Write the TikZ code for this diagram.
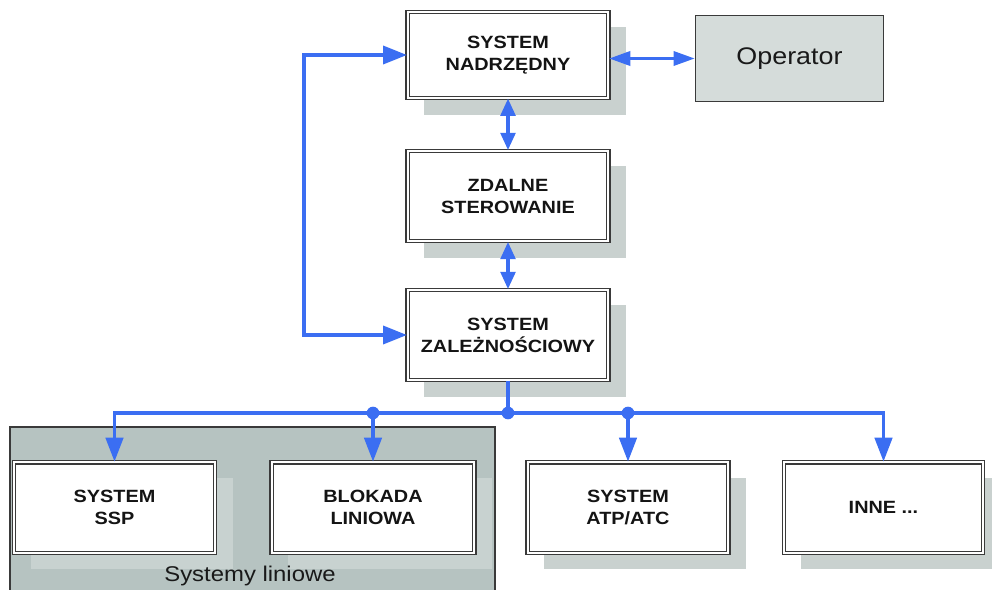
\documentclass[tikz,border=0pt]{standalone}
\usepackage{fontspec}
\setmainfont{Liberation Sans}[FakeStretch=1.12]
\usetikzlibrary{arrows.meta}
\definecolor{ablue}{HTML}{3B6EF2}
\definecolor{shadowgray}{HTML}{C9D1CF}
\definecolor{opfill}{HTML}{D5DCDA}
\definecolor{regfill}{HTML}{B6C3C1}
\definecolor{regshadow}{HTML}{C8D2D0}
\definecolor{edge}{HTML}{3A3A3A}
\pgfdeclarelayer{bg}
\pgfsetlayers{bg,main}
\begin{document}
\begin{tikzpicture}[x=0.75pt,y=-0.75pt,
  box/.style={draw=edge, line width=1pt, double=white, double distance=1.3pt,
    fill=white, minimum width=150.5pt, minimum height=67.8pt, inner sep=0pt,
    align=center, font=\fontsize{13.3}{16.5}\selectfont\bfseries, text=black!92},
  conn/.style={draw=ablue, line width=2.7pt},
  tip/.style={-{Triangle[length=18pt,width=13pt]}},
  btip/.style={{Triangle[length=18pt,width=13.5pt]}-{Triangle[length=18pt,width=13.5pt]}},
  otip/.style={{Triangle[length=16pt,width=10.5pt]}-{Triangle[length=16pt,width=10.5pt]}},
  stip/.style={{Triangle[length=13pt,width=11pt]}-{Triangle[length=13pt,width=11pt]}},
  dot/.style={fill=ablue, circle, inner sep=0pt, minimum size=9.5pt}
]
\useasboundingbox (0,0) rectangle (992,589);

% nodes
\node[box, minimum height=64.3pt] (nad) at (508,55) {SYSTEM\\NADRZĘDNY};
\node[box] (zdal) at (508,196) {ZDALNE\\STEROWANIE};
\node[box] (zal) at (508,335) {SYSTEM\\ZALEŻNOŚCIOWY};
\node[draw=edge, line width=1pt, fill=opfill, minimum width=141pt, minimum height=64.5pt,
      font=\fontsize{18}{20}\selectfont, text=black!90] (op) at (789.5,58.5) {Operator};
\node[box] (ssp) at (114.5,507.5) {SYSTEM\\SSP};
\node[box, minimum width=152pt] (blok) at (373,507.5) {BLOKADA\\LINIOWA};
\node[box] (atp) at (628,507.5) {SYSTEM\\ATP/ATC};
\node[box, minimum width=149pt] (inne) at (883.5,507.5) {INNE ...};
\node[font=\fontsize{16}{18}\selectfont, text=black!90] (lab) at (250,576) {Systemy liniowe};

% background: region and shadows
\begin{pgfonlayer}{bg}
  \filldraw[fill=regfill, draw=edge, line width=0.8pt] (10,427) rectangle (495,600);
  \fill[regshadow] ([shift={(17,16)}]ssp.south west) rectangle ([shift={(17,16)}]ssp.north east);
  \fill[regshadow] ([shift={(17,16)}]blok.south west) rectangle ([shift={(17,16)}]blok.north east);
  \foreach \n in {nad,zdal,zal,atp,inne}
    \fill[shadowgray] ([shift={(17,16)}]\n.south west) rectangle ([shift={(17,16)}]\n.north east);
\end{pgfonlayer}

% connectors
\draw[conn, otip] (op.west -| nad.east) -- (op.west);
\draw[conn, stip] (nad.south) -- (zdal.north);
\draw[conn, stip] (zdal.south) -- (zal.north);
\draw[conn, btip] (nad.west) -- ++(-103,0) |- (zal.west);

\coordinate (j) at (508,413);
\draw[conn] (zal.south) -- (j);
\draw[conn, tip] (j) -| (ssp.north);
\draw[conn, tip] (j) -| (inne.north);
\draw[conn, tip] (blok.north |- j) -- (blok.north);
\draw[conn, tip] (atp.north |- j) -- (atp.north);
\node[dot] (d1) at (j) {};
\node[dot] (d2) at (blok.north |- j) {};
\node[dot] (d3) at (atp.north |- j) {};
\end{tikzpicture}
\end{document}
